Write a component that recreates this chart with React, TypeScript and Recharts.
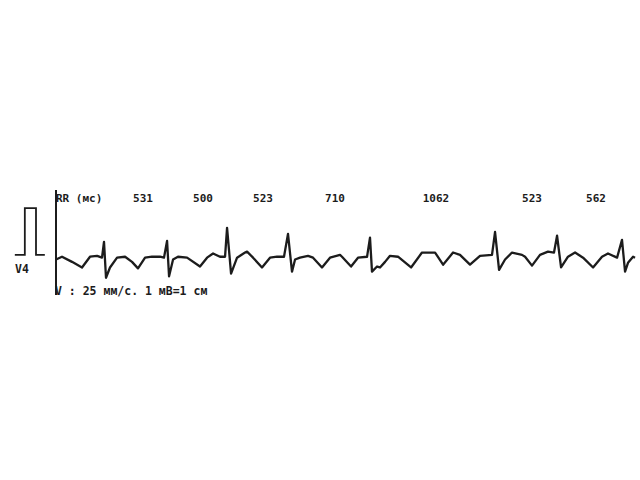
import React from "react";
import { LineChart, Line, XAxis, YAxis, ReferenceLine, LabelList } from "recharts";

// ECG lead V4, time in ms from the start of the strip, amplitude in mV
const ECG_MS = [
  0, 51, 136, 221, 289, 349, 391, 408, 425, 459,
  519, 587, 646, 697, 757, 816, 884, 918, 944, 961,
  995, 1037, 1114, 1224, 1284, 1335, 1394, 1437, 1454, 1488,
  1539, 1607, 1624, 1675, 1751, 1819, 1879, 1938, 1972, 2006,
  2032, 2074, 2142, 2185, 2261, 2329, 2414, 2431, 2508, 2567,
  2644, 2669, 2686, 2729, 2754, 2797, 2839, 2907, 3018, 3111,
  3222, 3290, 3375, 3434, 3519, 3604, 3706, 3732, 3766, 3817,
  3876, 3961, 3987, 4046, 4114, 4182, 4233, 4259, 4293, 4352,
  4412, 4480, 4565, 4641, 4692, 4769, 4811, 4837, 4862, 4905,
  4922,
];
const ECG_MV = [
  -0.04, 0.02, -0.09, -0.21, 0.02, 0.04, 0, 0.34, -0.43, -0.21,
  0, 0.02, -0.09, -0.23, 0, 0.02, 0.02, 0, 0.36, -0.4,
  -0.04, 0.02, 0, -0.19, 0, 0.09, 0.02, 0.02, 0.64, -0.34,
  0, 0.11, 0.13, 0, -0.21, 0, 0.02, 0.02, 0.51, -0.3,
  -0.04, 0, 0.04, 0, -0.21, 0, 0.06, 0.02, -0.19, 0,
  0.02, 0.43, -0.3, -0.19, -0.21, -0.09, 0.04, 0.02, -0.21, 0.11,
  0.11, -0.15, 0.11, 0.06, -0.15, 0.04, 0.06, 0.55, -0.26, -0.04,
  0.11, 0.06, 0.02, -0.17, 0.06, 0.13, 0.11, 0.47, -0.21, 0.02,
  0.11, 0, -0.21, 0.02, 0.09, 0, 0.38, -0.3, -0.11, 0.02,
  0,
];

// 1 mV calibration pulse drawn left of the strip
const CAL_MS = [-350, -265, -265, -170, -170, -95];
const CAL_MV = [0.06, 0.06, 1.06, 1.06, 0.06, 0.06];

// RR intervals (ms) and where their labels sit on the time axis
const RR_VALUES = [531, 500, 523, 710, 1062, 523, 562];
const RR_LABEL_MS = [740, 1250, 1760, 2372, 3230, 4046, 4590];
const RR_LABEL_MV = 1.26;

const ecgData = ECG_MS.map((t, i) => ({ t, v: ECG_MV[i] }));
const calData = CAL_MS.map((t, i) => ({ t, v: CAL_MV[i] }));
const rrData = RR_LABEL_MS.map((t, i) => ({ t, v: RR_LABEL_MV, rr: RR_VALUES[i] }));

const FONT = "'DejaVu Sans Mono', monospace";
const INK = "#1c1c1c";

const RrLabel = (props: any) => {
  const { x, y, value } = props;
  return (
    <text
      x={x}
      y={y}
      textAnchor="middle"
      dominantBaseline="central"
      fontFamily={FONT}
      fontWeight="bold"
      fontSize={11}
      fill={INK}
    >
      {value}
    </text>
  );
};

const textStyle: React.CSSProperties = {
  position: "absolute",
  fontFamily: FONT,
  fontWeight: "bold",
  fontSize: 11.5,
  color: INK,
  whiteSpace: "nowrap",
  lineHeight: "12px",
};

export default function App() {
  return (
    <div
      style={{
        position: "fixed",
        left: 0,
        top: 0,
        width: 640,
        height: 480,
        background: "#fff",
      }}
    >
      <LineChart
        width={640}
        height={480}
        margin={{ top: 190, right: 0, bottom: 185, left: 0 }}
      >
        <XAxis type="number" dataKey="t" domain={[-476, 4964]} hide allowDataOverflow />
        <YAxis type="number" domain={[-0.8, 1.45]} hide allowDataOverflow />
        <ReferenceLine x={0} stroke={INK} strokeWidth={2} />
        <Line
          data={calData}
          dataKey="v"
          type="linear"
          stroke={INK}
          strokeWidth={1.8}
          dot={false}
          isAnimationActive={false}
        />
        <Line
          data={ecgData}
          dataKey="v"
          type="linear"
          stroke={INK}
          strokeWidth={2.3}
          strokeLinejoin="round"
          dot={false}
          isAnimationActive={false}
        />
        <Line
          data={rrData}
          dataKey="v"
          stroke="none"
          dot={false}
          isAnimationActive={false}
        >
          <LabelList dataKey="rr" content={<RrLabel />} />
        </Line>
      </LineChart>
      <div style={{ ...textStyle, left: 56, top: 193, fontSize: 11 }}>RR (мс)</div>
      <div style={{ ...textStyle, left: 15, top: 263 }}>V4</div>
      <div style={{ ...textStyle, left: 55, top: 285 }}>V : 25 мм/с. 1 мВ=1 см</div>
    </div>
  );
}
